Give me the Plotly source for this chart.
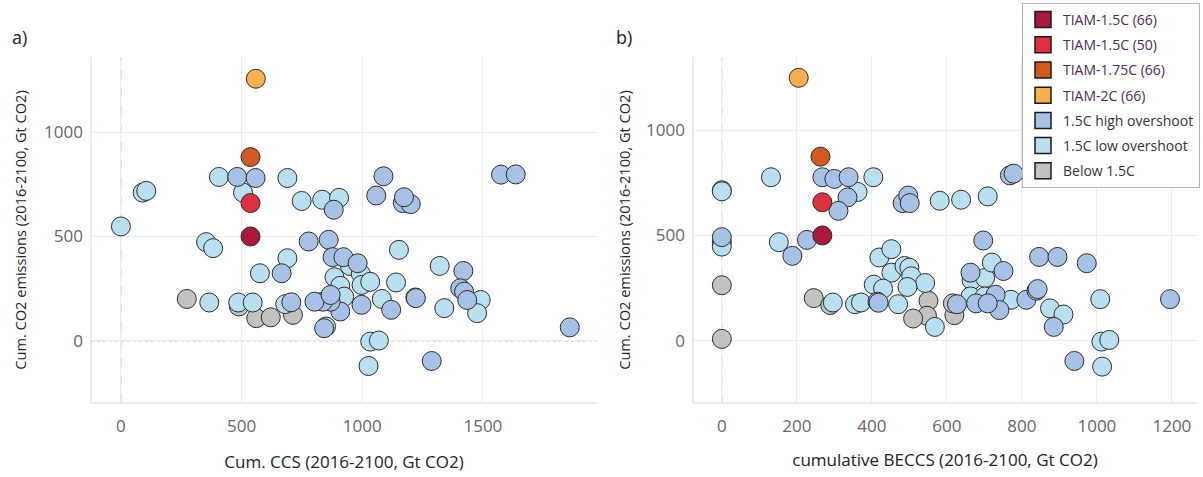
import plotly.graph_objects as go

# ---------------- data ----------------
categories = ["TIAM-1.5C (66)", "TIAM-1.5C (50)", "TIAM-1.75C (66)", "TIAM-2C (66)",
              "1.5C high overshoot", "1.5C low overshoot", "Below 1.5C"]
colors = ["#a9193c", "#dc323f", "#d25a20", "#f6b04f", "#a8c2e7", "#b8e0f1", "#c2c2c2"]

# Panel a: cumulative CCS vs cumulative CO2 emissions
a_tiam15_66_x = [537]; a_tiam15_66_y = [500]
a_tiam15_50_x = [537]; a_tiam15_50_y = [660]
a_tiam175_x = [537];  a_tiam175_y = [880]
a_tiam2_x = [559];    a_tiam2_y = [1255]
a_high_x = [482, 558, 882, 1058, 1088, 1168, 1201, 1173, 1575, 1636, 778, 861, 666, 877, 922, 981,
            1419, 1406, 1422, 1435, 1222, 1120, 997, 909, 869, 837, 802, 869, 842, 1288, 1860, 706]
a_high_y = [785, 780, 628, 696, 788, 660, 655, 688, 796, 797, 476, 484, 324, 401, 401, 372,
            335, 252, 236, 196, 205, 149, 173, 141, 188, 188, 188, 220, 61, -96, 65, 185]
a_low_x = [406, 690, 506, 90, 105, 749, 834, 904, 0, 353, 382, 1152, 690, 576, 949, 994, 885, 909,
           997, 1033, 1140, 1321, 1491, 1476, 1340, 1220, 1081, 925, 850, 1033, 1069, 1026, 366,
           486, 546, 681]
a_low_y = [785, 780, 710, 710, 718, 670, 676, 685, 548, 473, 444, 436, 396, 324, 359, 321, 305, 264,
           268, 283, 280, 359, 196, 133, 157, 208, 201, 212, 69, -3, 2, -120, 184,
           184, 184, 176]
a_below_x = [273, 489, 561, 621, 713]
a_below_y = [201, 165, 109, 113, 125]

# Panel b: cumulative BECCS vs cumulative CO2 emissions
b_tiam15_66_x = [268]; b_tiam15_66_y = [500]
b_tiam15_50_x = [268]; b_tiam15_50_y = [658]
b_tiam175_x = [263];  b_tiam175_y = [875]
b_tiam2_x = [205];    b_tiam2_y = [1250]
b_high_x = [268, 300, 338, 335, 311, 482, 497, 501, 768, 778, 0, 188, 227, 697, 415, 418, 627, 663,
            751, 678, 730, 740, 709, 812, 839, 842, 846, 895, 973, 885, 1195, 940]
b_high_y = [777, 769, 777, 681, 617, 654, 690, 654, 786, 794, 492, 403, 479, 476, 185, 180, 173, 323,
            331, 177, 218, 145, 177, 194, 237, 245, 398, 398, 368, 65, 197, -97]
b_low_x = [131, 404, 362, 581, 638, 709, 0, 0, 0, 0, 152, 420, 452, 452, 487, 500, 505, 542, 495,
           405, 430, 470, 296, 355, 371, 568, 666, 702, 720, 663, 701, 771, 875, 911, 1009, 1012,
           1033, 1014]
b_low_y = [777, 777, 707, 665, 670, 686, 715, 710, 468, 447, 468, 395, 435, 323, 355, 347, 306, 274, 255,
           266, 247, 173, 181, 173, 181, 65, 287, 298, 371, 210, 210, 194, 153, 124, 197, -5,
           3, -124]
b_below_x = [0, 0, 245, 289, 551, 547, 510, 620, 616]
b_below_y = [263, 8, 202, 169, 189, 118, 105, 121, 177]

x_ticks_a = [0, 500, 1000, 1500]
x_ticks_b = [0, 200, 400, 600, 800, 1000, 1200]
y_ticks = [0, 500, 1000]

panel_a = [(a_below_x, a_below_y, 6), (a_low_x, a_low_y, 5), (a_high_x, a_high_y, 4),
           (a_tiam2_x, a_tiam2_y, 3), (a_tiam175_x, a_tiam175_y, 2),
           (a_tiam15_50_x, a_tiam15_50_y, 1), (a_tiam15_66_x, a_tiam15_66_y, 0)]
panel_b = [(b_below_x, b_below_y, 6), (b_low_x, b_low_y, 5), (b_high_x, b_high_y, 4),
           (b_tiam2_x, b_tiam2_y, 3), (b_tiam175_x, b_tiam175_y, 2),
           (b_tiam15_50_x, b_tiam15_50_y, 1), (b_tiam15_66_x, b_tiam15_66_y, 0)]

FONT = "Open Sans"
fig = go.Figure()

for panel, xa, ya in [(panel_a, "x", "y"), (panel_b, "x2", "y2")]:
    for xs, ys, ci in panel:
        fig.add_trace(go.Scatter(
            x=xs, y=ys, mode="markers", xaxis=xa, yaxis=ya, showlegend=False,
            name=categories[ci],
            marker=dict(size=19, color=colors[ci], line=dict(color="#2b2b2b", width=1)),
        ))

# legend entries (square swatches)
for i, (cat, col) in enumerate(zip(categories, colors)):
    label = cat
    if cat.startswith("TIAM"):
        label = "<span style='color:#4e2a55'>" + cat + "</span>"
    fig.add_trace(go.Scatter(
        x=[None], y=[None], mode="markers", name=label, legendgroup="g%d" % i,
        marker=dict(symbol="square", size=16, color=col, line=dict(color="#1a1a1a", width=1.5)),
        xaxis="x2", yaxis="y2",
    ))

axis_common = dict(showgrid=True, gridcolor="#ececec", gridwidth=1, zeroline=False,
                   showline=False, ticks="", automargin=False,
                   tickfont=dict(family=FONT, size=17, color="#666666"))

Y_TOP = 0.865
fig.update_layout(
    width=1203, height=477,
    paper_bgcolor="white", plot_bgcolor="white",
    margin=dict(l=91, r=2, t=3, b=74),
    font=dict(family=FONT, color="#333333"),
    xaxis=dict(domain=[0, 0.4559], range=[-124, 1973], tickvals=x_ticks_a,
               title=dict(text="Cum. CCS (2016-2100, Gt CO2)", font=dict(size=17, color="#222222"), standoff=20),
               ticklabelstandoff=11, anchor="y", **axis_common),
    yaxis=dict(domain=[0, Y_TOP], range=[-297, 1359], tickvals=y_ticks,
               title=dict(text="Cum. CO2 emissions (2016-2100, Gt CO2)", font=dict(size=14.6, color="#222222"), standoff=13),
               ticklabelstandoff=7, anchor="x", **axis_common),
    xaxis2=dict(domain=[0.5423, 0.9964], range=[-77, 1267], tickvals=x_ticks_b,
                title=dict(text="cumulative BECCS (2016-2100, Gt CO2)", font=dict(size=17, color="#222222"), standoff=18),
                ticklabelstandoff=11, anchor="y2", **axis_common),
    yaxis2=dict(domain=[0, Y_TOP], range=[-297, 1349], tickvals=y_ticks,
                title=dict(text="Cum. CO2 emissions (2016-2100, Gt CO2)", font=dict(size=14.6, color="#222222"), standoff=11),
                ticklabelstandoff=7, anchor="x2", **axis_common),
    legend=dict(x=0.9991, y=1.0, xanchor="right", yanchor="top",
                bgcolor="white", bordercolor="#b0b0b0", borderwidth=1,
                font=dict(family=FONT, size=14, color="#333333"),
                tracegroupgap=4, itemsizing="trace"),
    showlegend=True,
)

# axis frame lines (left / bottom) and dotted zero lines
for xr, yr in [("x", "y"), ("x2", "y2")]:
    xd = xr + " domain"
    yd = yr + " domain"
    fig.add_shape(type="line", xref=xd, yref=yd, x0=0, x1=1, y0=0, y1=0,
                  line=dict(color="#e4e4e4", width=1.5), layer="below")
    fig.add_shape(type="line", xref=xd, yref=yd, x0=0, x1=0, y0=0, y1=1,
                  line=dict(color="#e4e4e4", width=1.5), layer="below")
    fig.add_shape(type="line", xref=xr, yref=yd, x0=0, x1=0, y0=0, y1=1,
                  line=dict(color="#b5b5b5", width=1, dash="dash"), layer="below")
    fig.add_shape(type="line", xref=xd, yref=yr, x0=0, x1=1, y0=0, y1=0,
                  line=dict(color="#b5b5b5", width=1, dash="dot"), layer="below")

fig.add_annotation(text="a)", xref="paper", yref="paper", x=-0.073, y=0.915,
                   xanchor="left", yanchor="middle", showarrow=False,
                   font=dict(family=FONT, size=18, color="#222222"))
fig.add_annotation(text="b)", xref="paper", yref="paper", x=0.471, y=0.915,
                   xanchor="left", yanchor="middle", showarrow=False,
                   font=dict(family=FONT, size=18, color="#222222"))

fig.write_html("out.html", config={"displayModeBar": False},
               post_script="document.body.style.margin='0';document.body.style.padding='0';")
